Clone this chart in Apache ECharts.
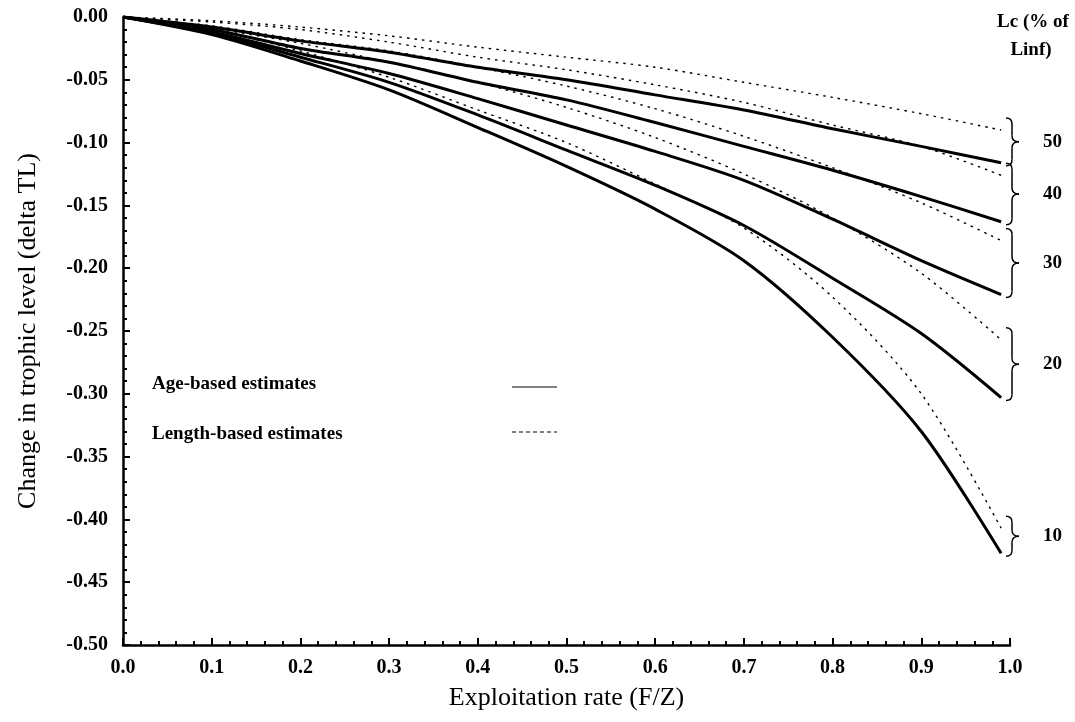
<!DOCTYPE html>
<html>
<head>
<meta charset="utf-8">
<script src="https://cdn.jsdelivr.net/npm/echarts@6/dist/echarts.min.js"></script>
<style>
  html, body { margin: 0; padding: 0; background: #fff; }
  #chart { width: 1075px; height: 722px; }
</style>
</head>
<body>
<div id="chart"></div>
<script>
// exploitation rate F/Z
const fz = [0, 0.1, 0.2, 0.3, 0.4, 0.5, 0.6, 0.7, 0.8, 0.9, 0.99];

// age-based estimates (solid), by Lc % of Linf
const age10 = [0, -0.014, -0.035, -0.058, -0.088, -0.119, -0.153, -0.194, -0.255, -0.330, -0.427];
const age20 = [0, -0.013, -0.032, -0.052, -0.078, -0.106, -0.134, -0.166, -0.208, -0.252, -0.303];
const age30 = [0, -0.012, -0.029, -0.045, -0.065, -0.086, -0.107, -0.130, -0.161, -0.194, -0.221];
const age40 = [0, -0.010, -0.025, -0.036, -0.052, -0.066, -0.084, -0.103, -0.122, -0.143, -0.163];
const age50 = [0, -0.008, -0.019, -0.028, -0.040, -0.050, -0.062, -0.074, -0.089, -0.103, -0.116];

// length-based estimates (dotted)
const len10 = [0, -0.010, -0.027, -0.048, -0.074, -0.100, -0.133, -0.168, -0.223, -0.300, -0.407];
const len20 = [0, -0.009, -0.021, -0.036, -0.052, -0.072, -0.096, -0.125, -0.160, -0.204, -0.257];
const len30 = [0, -0.007, -0.018, -0.027, -0.040, -0.055, -0.073, -0.095, -0.120, -0.148, -0.178];
const len40 = [0, -0.004, -0.010, -0.020, -0.032, -0.042, -0.054, -0.068, -0.086, -0.103, -0.126];
const len50 = [0, -0.003, -0.008, -0.015, -0.024, -0.032, -0.040, -0.052, -0.064, -0.077, -0.090];

const lcLabels = ['10', '20', '30', '40', '50'];

const serif = '"Liberation Serif", "Times New Roman", serif';
const ageSeries = [age10, age20, age30, age40, age50];
const lenSeries = [len10, len20, len30, len40, len50];

const chart = echarts.init(document.getElementById('chart'));

function pairs(ys) {
  return fz.map((x, i) => [x, ys[i]]);
}

const series = [];
ageSeries.forEach((ys, i) => {
  series.push({
    name: 'Age ' + lcLabels[i],
    type: 'line',
    data: pairs(ys),
    smooth: 0.3,
    symbol: 'none',
    lineStyle: { color: '#000', width: 3 },
  });
});
lenSeries.forEach((ys, i) => {
  series.push({
    name: 'Length ' + lcLabels[i],
    type: 'line',
    data: pairs(ys),
    smooth: 0.3,
    symbol: 'none',
    lineStyle: { color: '#000', width: 1.4, type: [2.5, 5] },
  });
});

const tickLabel = { fontFamily: serif, fontWeight: 'bold', fontSize: 20, color: '#000' };
const axisName = { fontFamily: serif, fontSize: 26, color: '#000' };
const boldFont = 'bold 19px ' + serif;

chart.setOption({
  animation: false,
  grid: { left: 123, right: 65, top: 17, bottom: 77 },
  xAxis: {
    type: 'value',
    min: 0,
    max: 1,
    interval: 0.1,
    name: 'Exploitation rate (F/Z)',
    nameLocation: 'middle',
    nameGap: 40,
    nameTextStyle: axisName,
    axisLine: { onZero: false, lineStyle: { color: '#000', width: 2.5 } },
    axisTick: { inside: true, length: 7, lineStyle: { color: '#000', width: 2 } },
    minorTick: { show: true, splitNumber: 5, length: 4, lineStyle: { color: '#000', width: 2 } },
    axisLabel: Object.assign({ margin: 13, formatter: (v) => v.toFixed(1) }, tickLabel),
    splitLine: { show: false },
  },
  yAxis: {
    type: 'value',
    min: -0.5,
    max: 0,
    interval: 0.05,
    name: 'Change in trophic level (delta TL)',
    nameLocation: 'middle',
    nameGap: 82,
    nameTextStyle: axisName,
    axisLine: { show: true, onZero: false, lineStyle: { color: '#000', width: 2.5 } },
    axisTick: { show: true, inside: true, length: 7, lineStyle: { color: '#000', width: 2 } },
    minorTick: { show: true, splitNumber: 5, length: 4, lineStyle: { color: '#000', width: 2 } },
    axisLabel: Object.assign({ margin: 15, formatter: (v) => v.toFixed(2) }, tickLabel),
    splitLine: { show: false },
  },
  series: series,
});

// legend, header and braces at the line ends
const last = fz.length - 1;
const graphic = [
  { type: 'text', x: 152, y: 384, style: { text: 'Age-based estimates', font: boldFont, fill: '#000', verticalAlign: 'middle' } },
  { type: 'line', shape: { x1: 512, y1: 387, x2: 557, y2: 387 }, style: { stroke: '#000', lineWidth: 1 } },
  { type: 'text', x: 152, y: 434, style: { text: 'Length-based estimates', font: boldFont, fill: '#000', verticalAlign: 'middle' } },
  { type: 'line', shape: { x1: 512, y1: 432, x2: 557, y2: 432 }, style: { stroke: '#000', lineWidth: 1, lineDash: [4, 3] } },
  { type: 'text', x: 1033, y: 22, style: { text: 'Lc (% of', font: boldFont, fill: '#000', align: 'center', verticalAlign: 'middle' } },
  { type: 'text', x: 1031, y: 50, style: { text: 'Linf)', font: boldFont, fill: '#000', align: 'center', verticalAlign: 'middle' } },
];

const braceStyle = { stroke: '#000', lineWidth: 1.5, fill: null };
function curve(ax, ay, cx, cy, bx, by) {
  return { type: 'bezierCurve', shape: { x1: ax, y1: ay, cpx1: cx, cpy1: cy, x2: bx, y2: by }, style: braceStyle };
}
function seg(ax, ay, bx, by) {
  return { type: 'line', shape: { x1: ax, y1: ay, x2: bx, y2: by }, style: braceStyle };
}

lcLabels.forEach((lab, i) => {
  const ya = chart.convertToPixel({ gridIndex: 0 }, [fz[last], ageSeries[i][last]])[1];
  const yl = chart.convertToPixel({ gridIndex: 0 }, [fz[last], lenSeries[i][last]])[1];
  const top = Math.min(ya, yl) - 12;
  const bot = Math.max(ya, yl) + 3;
  const mid = (top + bot) / 2;
  const x0 = 1006;
  const x1 = x0 + 6;
  const x2 = x0 + 13;
  graphic.push(
    curve(x0, top, x1, top, x1, top + 6),
    seg(x1, top + 6, x1, mid - 6),
    curve(x1, mid - 6, x1, mid, x2, mid),
    curve(x2, mid, x1, mid, x1, mid + 6),
    seg(x1, mid + 6, x1, bot - 6),
    curve(x1, bot - 6, x1, bot, x0, bot),
    { type: 'text', x: 1043, y: mid, style: { text: lab, font: boldFont, fill: '#000', verticalAlign: 'middle' } }
  );
});

chart.setOption({ graphic: graphic });
</script>
</body>
</html>
